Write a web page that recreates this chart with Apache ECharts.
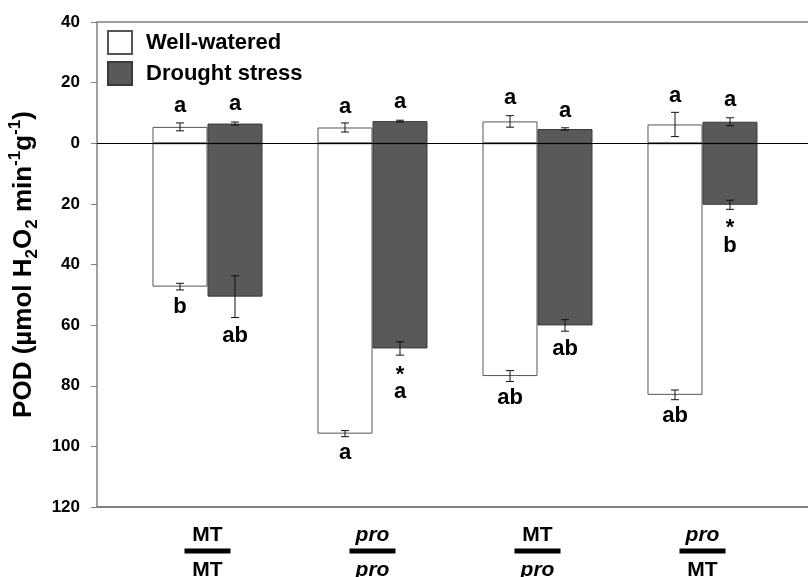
<!DOCTYPE html>
<html><head><meta charset="utf-8">
<script src="https://cdn.jsdelivr.net/npm/echarts@6/dist/echarts.min.js"></script>
<style>html,body{margin:0;padding:0;background:#fff}#c{width:808px;height:577px}</style>
</head><body><div id="c"></div>
<script>
// ---- data ----
const categories = ['MT/MT', 'pro/pro', 'MT/pro', 'pro/MT'];
const scionLabels = ['MT', 'pro', 'MT', 'pro'];
const rootLabels = ['MT', 'pro', 'pro', 'MT'];
const wellWateredUpper = [5.4, 5.2, 7.2, 6.2];
const droughtUpper = [6.5, 7.3, 4.7, 7.1];
const wellWateredLower = [-47.3, -95.8, -76.8, -83.0];
const droughtLower = [-50.6, -67.7, -60.1, -20.3];
const wwUpperErr = [1.3, 1.5, 1.9, 4.0];
const dsUpperErr = [0.5, 0.3, 0.4, 1.3];
const wwLowerErr = [1.1, 1.0, 1.8, 1.6];
const dsLowerErr = [6.9, 2.2, 1.9, 1.5];
const yMin = -120, yMax = 40, yStep = 20;
// significance letters: category index, side (0 = well-watered, 1 = drought), value position, text
const letterCat  = [0, 0, 0, 0, 1, 1, 1, 1, 1, 2, 2, 2, 2, 3, 3, 3, 3, 3];
const letterSide = [0, 1, 0, 1, 0, 1, 0, 1, 1, 0, 1, 0, 1, 0, 1, 0, 1, 1];
const letterY    = [12.4, 13.1, -53.9, -63.5, 12.0, 13.5, -102.0, -76.4, -82.2, 15.1, 10.7, -84.0, -67.9, 15.7, 14.3, -89.9, -28.0, -33.8];
const letterText = ['a', 'a', 'b', 'ab', 'a', 'a', 'a', '*', 'a', 'a', 'a', 'ab', 'ab', 'a', 'a', 'ab', '*', 'b'];

// ---- build ----
const FONT = '"Liberation Sans", Arial, sans-serif';
const errData = [];
for (let i = 0; i < categories.length; i++) {
  errData.push([i, wellWateredUpper[i], wwUpperErr[i], 0]);
  errData.push([i, droughtUpper[i], dsUpperErr[i], 1]);
  errData.push([i, wellWateredLower[i], wwLowerErr[i], 0]);
  errData.push([i, droughtLower[i], dsLowerErr[i], 1]);
}
const letterData = letterCat.map((c, i) => [c, letterY[i], letterSide[i]]);

const wwStyle = { color: '#ffffff', borderColor: '#555555', borderWidth: 1 };
const dsStyle = { color: '#595959', borderColor: '#3a3a3a', borderWidth: 1 };

const chart = echarts.init(document.getElementById('c'), null, { renderer: 'canvas' });
chart.setOption({
  animation: false,
  backgroundColor: '#ffffff',
  grid: [
    { left: 97, right: -3, top: 22, bottom: 70, containLabel: false, outerBoundsMode: 'none' },
    { left: 125, right: 23, top: 22, bottom: 70, containLabel: false, outerBoundsMode: 'none' }
  ],
  legend: {
    data: ['Well-watered', 'Drought stress'],
    orient: 'vertical', left: 102, top: 25, itemWidth: 24, itemHeight: 23, itemGap: 6,
    icon: 'rect',
    textStyle: { fontFamily: FONT, fontSize: 22, fontWeight: 'bold', color: '#000', lineHeight: 23, padding: [0, 0, 0, 9] }
  },
  xAxis: [
    { gridIndex: 0, type: 'value', min: 0, max: 1, position: 'bottom',
      axisLine: { onZero: false, lineStyle: { color: '#808080', width: 2 } },
      axisTick: { show: false }, axisLabel: { show: false }, splitLine: { show: false } },
    { gridIndex: 0, type: 'value', min: 0, max: 1, position: 'top',
      axisLine: { onZero: false, lineStyle: { color: '#808080', width: 1.5 } },
      axisTick: { show: false }, axisLabel: { show: false }, splitLine: { show: false } },
    { gridIndex: 1, type: 'category', data: categories, position: 'bottom',
      axisLine: { show: false }, axisTick: { show: false },
      axisLabel: {
        margin: 18, interval: 0,
        formatter: (v, i) => {
          const t = scionLabels[i] === 'pro' ? 'ti' : 't';
          const b = rootLabels[i] === 'pro' ? 'bi' : 'b';
          return '{' + t + '|' + scionLabels[i] + '}\n{bar| }\n{' + b + '|' + rootLabels[i] + '}';
        },
        rich: {
          t: { fontFamily: FONT, fontSize: 21, fontWeight: 'bold', color: '#000', lineHeight: 20 },
          ti: { fontFamily: FONT, fontSize: 21, fontWeight: 'bold', fontStyle: 'italic', color: '#000', lineHeight: 20 },
          bar: { width: 46, height: 5, backgroundColor: '#000', fontSize: 4, lineHeight: 12 },
          b: { fontFamily: FONT, fontSize: 21, fontWeight: 'bold', color: '#000', lineHeight: 27 },
          bi: { fontFamily: FONT, fontSize: 21, fontWeight: 'bold', fontStyle: 'italic', color: '#000', lineHeight: 27 }
        }
      } }
  ],
  yAxis: [
    { gridIndex: 0, type: 'value', min: yMin, max: yMax, interval: yStep,
      axisLine: { show: true, onZero: false, lineStyle: { color: '#808080', width: 1.5 } },
      axisTick: { show: true, inside: false, length: 6, lineStyle: { color: '#808080' } },
      splitLine: { show: false },
      axisLabel: { margin: 17, fontFamily: FONT, fontSize: 17, fontWeight: 'bold', color: '#000',
        formatter: v => String(Math.abs(v)) },
      name: '{n|POD (µmol H}{s|2}{n|O}{s|2}{n| min}{p|-1}{n|g}{p|-1}{n|)}',
      nameLocation: 'middle', nameGap: 56, nameRotate: 90,
      nameTextStyle: {
        rich: {
          n: { fontFamily: FONT, fontSize: 26, fontWeight: 'bold', color: '#000', lineHeight: 34 },
          s: { fontFamily: FONT, fontSize: 17, fontWeight: 'bold', color: '#000', lineHeight: 34, verticalAlign: 'bottom' },
          p: { fontFamily: FONT, fontSize: 17, fontWeight: 'bold', color: '#000', lineHeight: 34, verticalAlign: 'top' }
        }
      } },
    { gridIndex: 1, type: 'value', min: yMin, max: yMax, interval: yStep, show: false }
  ],
  series: [
    { type: 'line', xAxisIndex: 0, yAxisIndex: 0, data: [], silent: true,
      markLine: { silent: true, symbol: ['none', 'none'], label: { show: false },
        lineStyle: { color: '#000', width: 1, type: 'solid' }, data: [{ yAxis: 0 }] } },
    { name: 'Well-watered', type: 'bar', xAxisIndex: 2, yAxisIndex: 1, stack: 'ww',
      data: wellWateredUpper, itemStyle: wwStyle, barGap: '0%', barCategoryGap: '33.33%' },
    { name: 'Drought stress', type: 'bar', xAxisIndex: 2, yAxisIndex: 1, stack: 'ds',
      data: droughtUpper, itemStyle: dsStyle, barGap: '0%', barCategoryGap: '33.33%' },
    { name: 'Well-watered', type: 'bar', xAxisIndex: 2, yAxisIndex: 1, stack: 'ww',
      data: wellWateredLower, itemStyle: wwStyle, barGap: '0%', barCategoryGap: '33.33%' },
    { name: 'Drought stress', type: 'bar', xAxisIndex: 2, yAxisIndex: 1, stack: 'ds',
      data: droughtLower, itemStyle: dsStyle, barGap: '0%', barCategoryGap: '33.33%' },
    { type: 'custom', xAxisIndex: 2, yAxisIndex: 1, data: errData, z: 5, silent: true,
      renderItem: (params, api) => {
        const cat = api.value(0), v = api.value(1), e = api.value(2), side = api.value(3);
        const bw = api.size([1, 0])[0];
        const cx = api.coord([cat, 0])[0] + (side ? 1 : -1) * bw / 6;
        const y1 = api.coord([cat, v + e])[1], y2 = api.coord([cat, v - e])[1];
        const cap = 4, st = { stroke: '#111', lineWidth: 1 };
        return { type: 'group', children: [
          { type: 'line', shape: { x1: cx, y1: y1, x2: cx, y2: y2 }, style: st },
          { type: 'line', shape: { x1: cx - cap, y1: y1, x2: cx + cap, y2: y1 }, style: st },
          { type: 'line', shape: { x1: cx - cap, y1: y2, x2: cx + cap, y2: y2 }, style: st }
        ] };
      } },
    { type: 'custom', xAxisIndex: 2, yAxisIndex: 1, data: letterData, z: 6, silent: true,
      renderItem: (params, api) => {
        const cat = api.value(0), v = api.value(1), side = api.value(2);
        const bw = api.size([1, 0])[0];
        const p = api.coord([cat, v]);
        return { type: 'text', x: p[0] + (side ? 1 : -1) * bw / 6, y: p[1],
          style: { text: letterText[params.dataIndex], fill: '#000',
            font: 'bold 22px ' + FONT, align: 'center', verticalAlign: 'middle' } };
      } }
  ]
});
</script></body></html>
